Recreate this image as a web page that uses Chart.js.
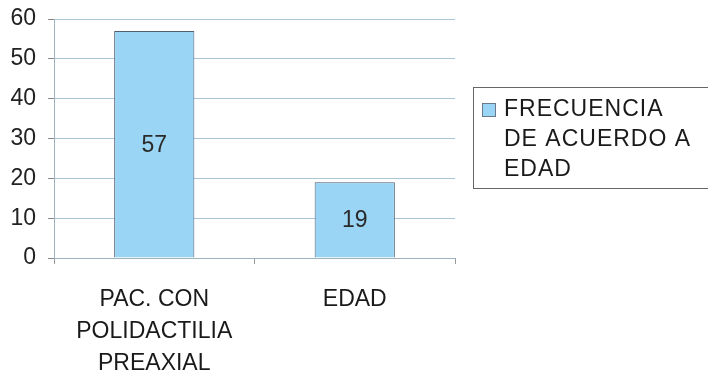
<!DOCTYPE html>
<html>
<head>
<meta charset="utf-8">
<script src="https://cdn.jsdelivr.net/npm/chart.js@4.4.0/dist/chart.umd.min.js"></script>
<style>
    html, body { margin: 0; padding: 0; background: #fff; }
    #wrap { width: 708px; height: 373px; position: relative; }
</style>
</head>
<body>
<div id="wrap"><canvas id="barChart" width="708" height="373"></canvas></div>
<script>
// datos
const categorias = [['PAC. CON', 'POLIDACTILIA', 'PREAXIAL'], 'EDAD'];
const frecuencia = [57, 19];
const serieLabel = ['FRECUENCIA', 'DE ACUERDO A', 'EDAD'];
const yTicks = [0, 10, 20, 30, 40, 50, 60];

const FONT = '"Liberation Sans", Arial, sans-serif';

// etiquetas de valor en el centro de cada barra
const valueLabels = {
    id: 'valueLabels',
    afterDatasetsDraw(chart) {
        const ctx = chart.ctx;
        const meta = chart.getDatasetMeta(0);
        ctx.save();
        ctx.font = '23px ' + FONT;
        ctx.fillStyle = '#2a2a2a';
        ctx.textAlign = 'center';
        ctx.textBaseline = 'middle';
        meta.data.forEach((bar, i) => {
            const p = bar.getProps(['x', 'y', 'base'], true);
            ctx.fillText(String(frecuencia[i]), p.x, (p.y + p.base) / 2 + 1);
        });
        ctx.restore();
    }
};

// leyenda con texto en varias líneas
const boxLegend = {
    id: 'boxLegend',
    afterDraw(chart) {
        const ctx = chart.ctx;
        const ds = chart.data.datasets[0];
        ctx.save();
        ctx.strokeStyle = '#666';
        ctx.lineWidth = 1;
        ctx.strokeRect(473.5, 87.5, 260, 101);
        ctx.fillStyle = ds.backgroundColor;
        ctx.fillRect(482, 103, 14, 14);
        ctx.strokeStyle = '#6a7a8a';
        ctx.strokeRect(482.5, 103.5, 13, 13);
        ctx.font = '23px ' + FONT;
        ctx.letterSpacing = '1px';
        ctx.fillStyle = '#1a1a1a';
        ctx.textAlign = 'left';
        ctx.textBaseline = 'middle';
        serieLabel.forEach((t, i) => ctx.fillText(t, 504, 110 + i * 30));
        ctx.restore();
    }
};

new Chart(document.getElementById('barChart').getContext('2d'), {
    type: 'bar',
    data: {
        labels: categorias,
        datasets: [{
            label: serieLabel.join(' '),
            data: frecuencia,
            backgroundColor: '#9ad5f5',
            borderColor: '#4f5f70',
            borderWidth: 1,
            barPercentage: 0.8,
            categoryPercentage: 0.5
        }]
    },
    options: {
        responsive: false,
        animation: false,
        layout: { padding: { top: 19, right: 253, left: 0, bottom: 0 } },
        plugins: {
            legend: { display: false },
            tooltip: { enabled: false }
        },
        scales: {
            x: {
                offset: true,
                afterFit(scale) { scale.height = 115; scale.paddingLeft = 0; scale.paddingRight = 0; },
                grid: {
                    offset: true,
                    color: (c) => c.index === 2 ? '#b9d3e0' : 'rgba(0,0,0,0)',
                    tickColor: '#999',
                    tickLength: 6
                },
                border: { color: '#9db3c0' },
                ticks: {
                    color: '#1a1a1a',
                    padding: 20,
                    maxRotation: 0,
                    font: { family: FONT, size: 23, lineHeight: 1.39 }
                }
            },
            y: {
                min: 0,
                max: 60,
                afterFit(scale) { scale.width = 54; scale.paddingTop = 0; scale.paddingBottom = 0; },
                afterBuildTicks(scale) { scale.ticks = yTicks.map(v => ({ value: v })); },
                grid: {
                    color: '#a9c7d8',
                    tickColor: '#888',
                    tickLength: 6
                },
                border: { color: '#9db3c0' },
                ticks: {
                    color: '#222',
                    padding: 12,
                    font: { family: FONT, size: 23 }
                }
            }
        }
    },
    plugins: [valueLabels, boxLegend]
});
</script>
</body>
</html>
